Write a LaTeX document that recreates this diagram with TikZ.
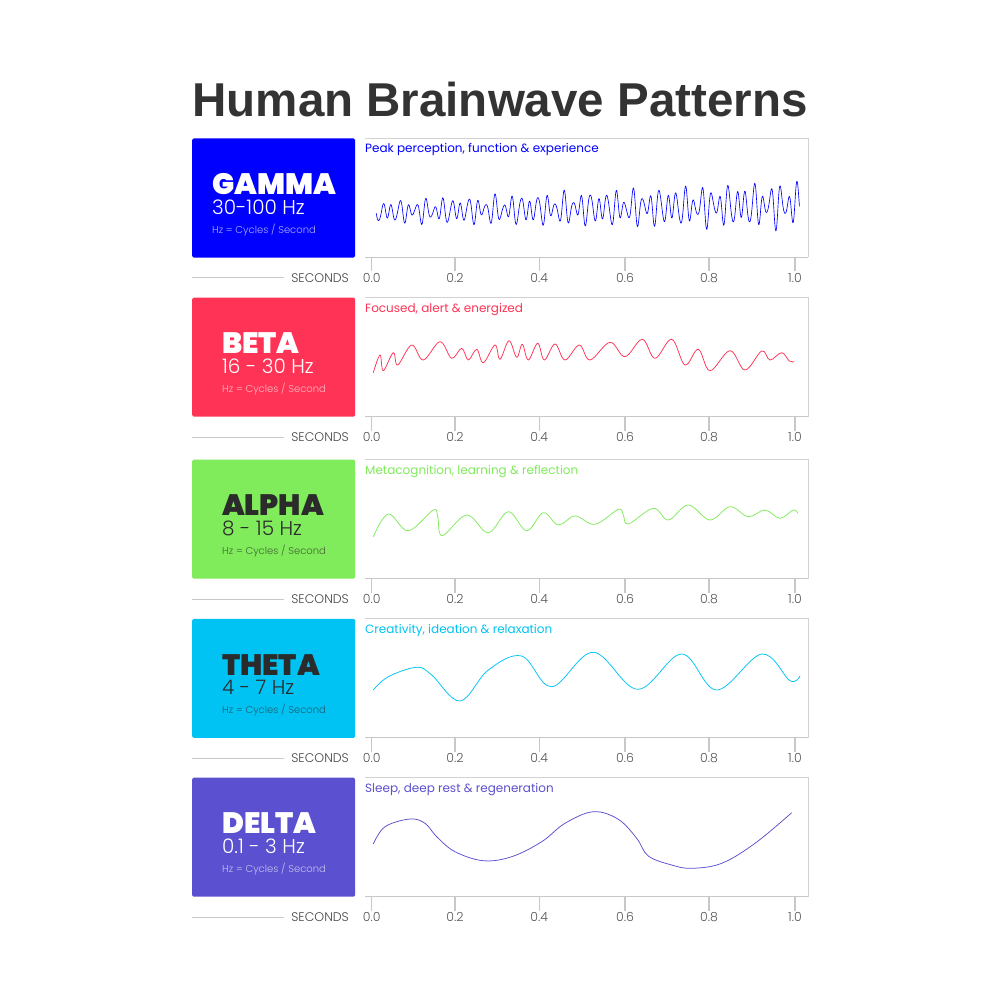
\documentclass[tikz,border=0pt]{standalone}
\usepackage{fontspec}
\setmainfont{Poppins}
\newfontfamily\titlefont{Liberation Sans}
\newfontfamily\plight{Poppins Light}
\newfontfamily\pblack{Poppins Black}
\definecolor{titlec}{HTML}{333333}
\definecolor{gammac}{HTML}{0000FF}
\definecolor{betac}{HTML}{FF3355}
\definecolor{alphac}{HTML}{80EB5B}
\definecolor{thetac}{HTML}{00C3F3}
\definecolor{deltac}{HTML}{5B50CF}
\definecolor{darktext}{HTML}{2B2B2B}
\definecolor{framec}{HTML}{D2D2D2}
\definecolor{axisc}{HTML}{C8C8C8}
\definecolor{labc}{HTML}{555555}
\definecolor{secc}{HTML}{444444}

\newcommand\bwpanel[9]{%
  \node[namebox, fill=#3] (#1box) at (192,#2) {};
  \node[blocktext, text=#4] (#1label) at (274,{#2+66.5})
    {{\pblack\fontsize{29.5}{29.5}\selectfont #5}\\
     {\plight\fontsize{20}{20}\selectfont #6}\\
     {\plight\fontsize{10}{10}\selectfont\color{#9}Hz = Cycles / Second}};
  \node[desctext, text=#8, anchor=base west] (#1desc) at (365,{#2+14.5}) {#7};
  \draw[framestyle] (365,#2) -- (808,#2) -- (808,{#2+119});
  \draw[axisstyle] (365,{#2+119}) -- (808,{#2+119});
  \foreach \lab/\xx [count=\i] in {0.0/371.7,0.2/455,0.4/539.3,0.6/625,0.8/709,1.0/795}{
    \draw[axisstyle] (\xx,{#2+119}) -- (\xx,{#2+133});
    \node[ticklab, anchor=base] (#1tick\i) at (\xx,{#2+144}) {\lab};
  }
  \draw[secline] (192,{#2+139.5}) -- (284,{#2+139.5});
  \node[ticklab, text=secc, anchor=base east] (#1sec) at (349,{#2+144}) {SECONDS};
}

\begin{document}
\begin{tikzpicture}[x={(1pt,0pt)}, y={(0pt,-1pt)},
  namebox/.style={anchor=north west, rounded corners=1.5pt, minimum width=163pt, minimum height=119pt, inner sep=0pt, draw=none},
  blocktext/.style={align=left, inner sep=0pt, font=\fontsize{10}{19.3}\selectfont},
  desctext/.style={inner sep=0pt, font=\fontsize{12}{12}\selectfont},
  ticklab/.style={inner sep=0pt, text=labc, font=\plight\fontsize{12.5}{13}\selectfont},
  framestyle/.style={draw=framec, line width=0.9pt},
  axisstyle/.style={draw=axisc, line width=1.1pt},
  secline/.style={draw=axisc, line width=1pt},
  wave/.style={line width=0.75pt, line join=round}]
\useasboundingbox[fill=white] (0,0) rectangle (1000,1000);

\node[font=\titlefont\bfseries\fontsize{47.5}{50}\selectfont, text=titlec, anchor=base, inner sep=0pt] (title) at (500,117) {Human Brainwave Patterns};

\bwpanel{g}{138.3}{gammac}{white}{GAMMA}{30-100 Hz}{Peak perception, function \& experience}{gammac}{white!68!gammac}
\bwpanel{b}{297.5}{betac}{white}{BETA}{16 - 30 Hz}{Focused, alert \& energized}{betac}{white!65!betac}
\bwpanel{a}{459.5}{alphac}{darktext}{ALPHA}{8 - 15 Hz}{Metacognition, learning \& reflection}{alphac}{darktext!70!alphac}
\bwpanel{t}{618.7}{thetac}{darktext}{THETA}{4 - 7 Hz}{Creativity, ideation \& relaxation}{thetac}{darktext!65!thetac}
\bwpanel{d}{777.5}{deltac}{white}{DELTA}{0.1 - 3 Hz}{Sleep, deep rest \& regeneration}{deltac}{white!65!deltac}

% gamma wave
\draw[wave, gammac, line width=0.65pt] plot[domain=0.01:1.01, samples=900, variable=\t]
  ({372+423.3*\t}, {212-7*\t-(10+11*\t)*(sin(360*mod(49*\t,1)) + 0.45*sin(360*mod(31*\t,1)+70) + 0.25*sin(360*mod(73*\t,1)+30))/1.35});

% beta wave
\draw[wave, betac] plot[smooth, tension=0.6] coordinates {
 (373.3,372.7) (380,355) (383.3,370.7) (393.3,352.7) (397.7,365) (411.7,345) (423.3,360)
 (440,341.7) (451.7,358.3) (461.7,348.3) (468.3,360) (476.7,349.3) (483.3,362.7) (495,345)
 (500,359.3) (509,340.7) (516.7,357.3) (522.3,344.3) (528.3,360) (537.7,343.3) (544.3,360)
 (555,344) (565,360) (579.3,345) (590,360) (610,342.3) (625,356.7) (642.3,339.3) (655,358.3)
 (671.7,339.3) (685,365) (698.3,349.3) (710,370.7) (730,350.7) (745,370) (761.7,351)
 (770,360) (781.7,352.7) (789.3,361) (794.3,361.7)};

% alpha wave
\draw[wave, alphac] plot[smooth, tension=0.6] coordinates {
 (373.3,536.7) (388.3,514) (408.3,530.7) (433.3,510) (437.7,516.7) (442.3,535.7) (466.7,515)
 (488.3,532.7) (508.3,511.7) (526.7,530.7) (543.3,512.7) (558.3,525) (575,516) (595,524.3)
 (618.3,509.3) (623.3,515) (628.3,524) (653.3,508.3) (668.3,520) (688.3,505) (710,520)
 (730,506.7) (748.3,516.7) (765,510) (780,518.3) (793.3,510) (797.7,513.3)};

% theta wave
\draw[wave, thetac] plot[smooth, tension=0.6] coordinates {
 (373.3,690) (388.3,676.7) (416.7,667.3) (431.7,675) (460,701) (488.3,670) (521.7,656)
 (551.7,686.7) (593.3,652.3) (637.7,689.3) (681.7,654) (716.7,690) (761.7,654)
 (790,680.7) (800,676)};

% delta wave
\draw[wave, deltac] plot[smooth, tension=0.6] coordinates {
 (373.3,844) (385,826.7) (410,819) (425,823.3) (436.7,836.7) (455,851.7) (483.3,860.7)
 (511.7,856.7) (541.7,841.7) (565,823.3) (593.3,811.7) (618.3,819.3) (636.7,838.3)
 (648.3,856) (671.7,865) (691.7,868.3) (721.7,863.3) (755,843.3) (791.7,812.7)};
\end{tikzpicture}
\end{document}
